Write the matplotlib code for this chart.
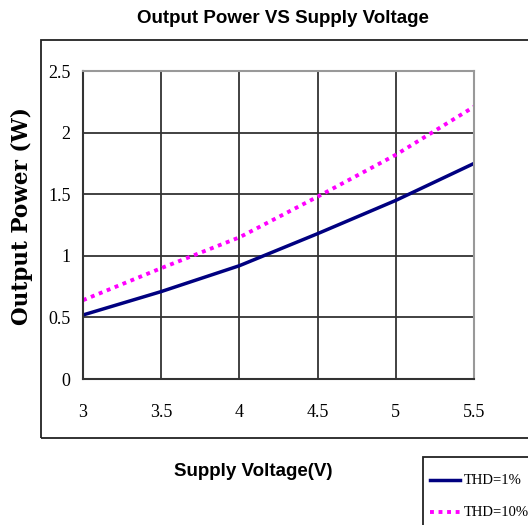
import matplotlib.pyplot as plt
from matplotlib.patches import Rectangle
from matplotlib.lines import Line2D

# data
voltage = [3.0, 3.5, 4.0, 4.5, 5.0, 5.5]
power_thd1 = [0.52, 0.71, 0.92, 1.18, 1.45, 1.75]
power_thd10 = [0.64, 0.90, 1.15, 1.48, 1.82, 2.21]
xticks = [3, 3.5, 4, 4.5, 5, 5.5]
xtick_labels = ['3', '3.5', '4', '4.5', '5', '5.5']
yticks = [0, 0.5, 1, 1.5, 2, 2.5]
ytick_labels = ['0', '0.5', '1', '1.5', '2', '2.5']
series_labels = ['THD=1%', 'THD=10%']

NARROW = ['Liberation Serif', 'DejaVu Serif']
BLUE = '#000080'
PINK = '#FF00FF'
DOTS = (0, (1, 1.2))

fig = plt.figure(figsize=(5.28, 5.25), dpi=100)
fig.patch.set_facecolor('white')

# outer frame of the chart area (runs past the right edge like the original)
fig.patches.append(Rectangle((0.0777, 0.1657), 0.95, 0.7581,
                             transform=fig.transFigure, fill=False,
                             edgecolor='#222222', linewidth=1.3))

ax = fig.add_axes([0.1572, 0.278, 0.7405, 0.5867])
ax.plot(voltage, power_thd1, color=BLUE, linewidth=2.5,
        solid_capstyle='butt', label=series_labels[0])
ax.plot(voltage, power_thd10, color=PINK, linewidth=2.8,
        linestyle=DOTS, label=series_labels[1])

ax.set_xlim(3, 5.5)
ax.set_ylim(0, 2.5)
ax.set_xticks(xticks)
ax.set_xticklabels(xtick_labels, family=NARROW, fontsize=13)
ax.set_yticks(yticks)
ax.set_yticklabels(ytick_labels, family=NARROW, fontsize=13)
ax.tick_params(axis='y', length=0, pad=9)
ax.tick_params(axis='x', length=0, pad=18)
ax.grid(True, color='#333333', linewidth=1.3)
ax.set_axisbelow(True)
for side in ['left', 'bottom']:
    ax.spines[side].set_color('#333333')
    ax.spines[side].set_linewidth(1.5)
for side in ['top', 'right']:
    ax.spines[side].set_color('#999999')
    ax.spines[side].set_linewidth(1.5)

fig.text(0.536, 0.964, 'Output Power VS Supply Voltage', ha='center', va='center',
         family='Liberation Sans', fontweight='bold', fontsize=13.5)
fig.text(0.48, 0.101, 'Supply Voltage(V)', ha='center', va='center',
         family='Liberation Sans', fontweight='bold', fontsize=13.5)
fig.text(0.042, 0.589, 'Output Power (W)', ha='center', va='center',
         rotation=90, family='DejaVu Serif', fontweight='bold', fontsize=15.5)

# legend box, drawn by hand so it can sit on the lower right corner like the original
W, H = 528, 525
fig.patches.append(Rectangle((423 / W, -0.05), 0.3, 0.05 + 1 - 457 / H,
                             transform=fig.transFigure, fill=False,
                             edgecolor='#222222', linewidth=1.3))
for (color, ls, lw), label, ypix in zip([(BLUE, '-', 2.5), (PINK, DOTS, 2.8)],
                                        series_labels, [480, 512]):
    yf = 1 - ypix / H
    fig.add_artist(Line2D([430 / W, 460 / W], [yf, yf], transform=fig.transFigure,
                          color=color, linestyle=ls, linewidth=lw))
    fig.text(464 / W, yf, label, ha='left', va='center', family=NARROW, fontsize=10.5)

fig.savefig('out.png', dpi=100, facecolor='white')
